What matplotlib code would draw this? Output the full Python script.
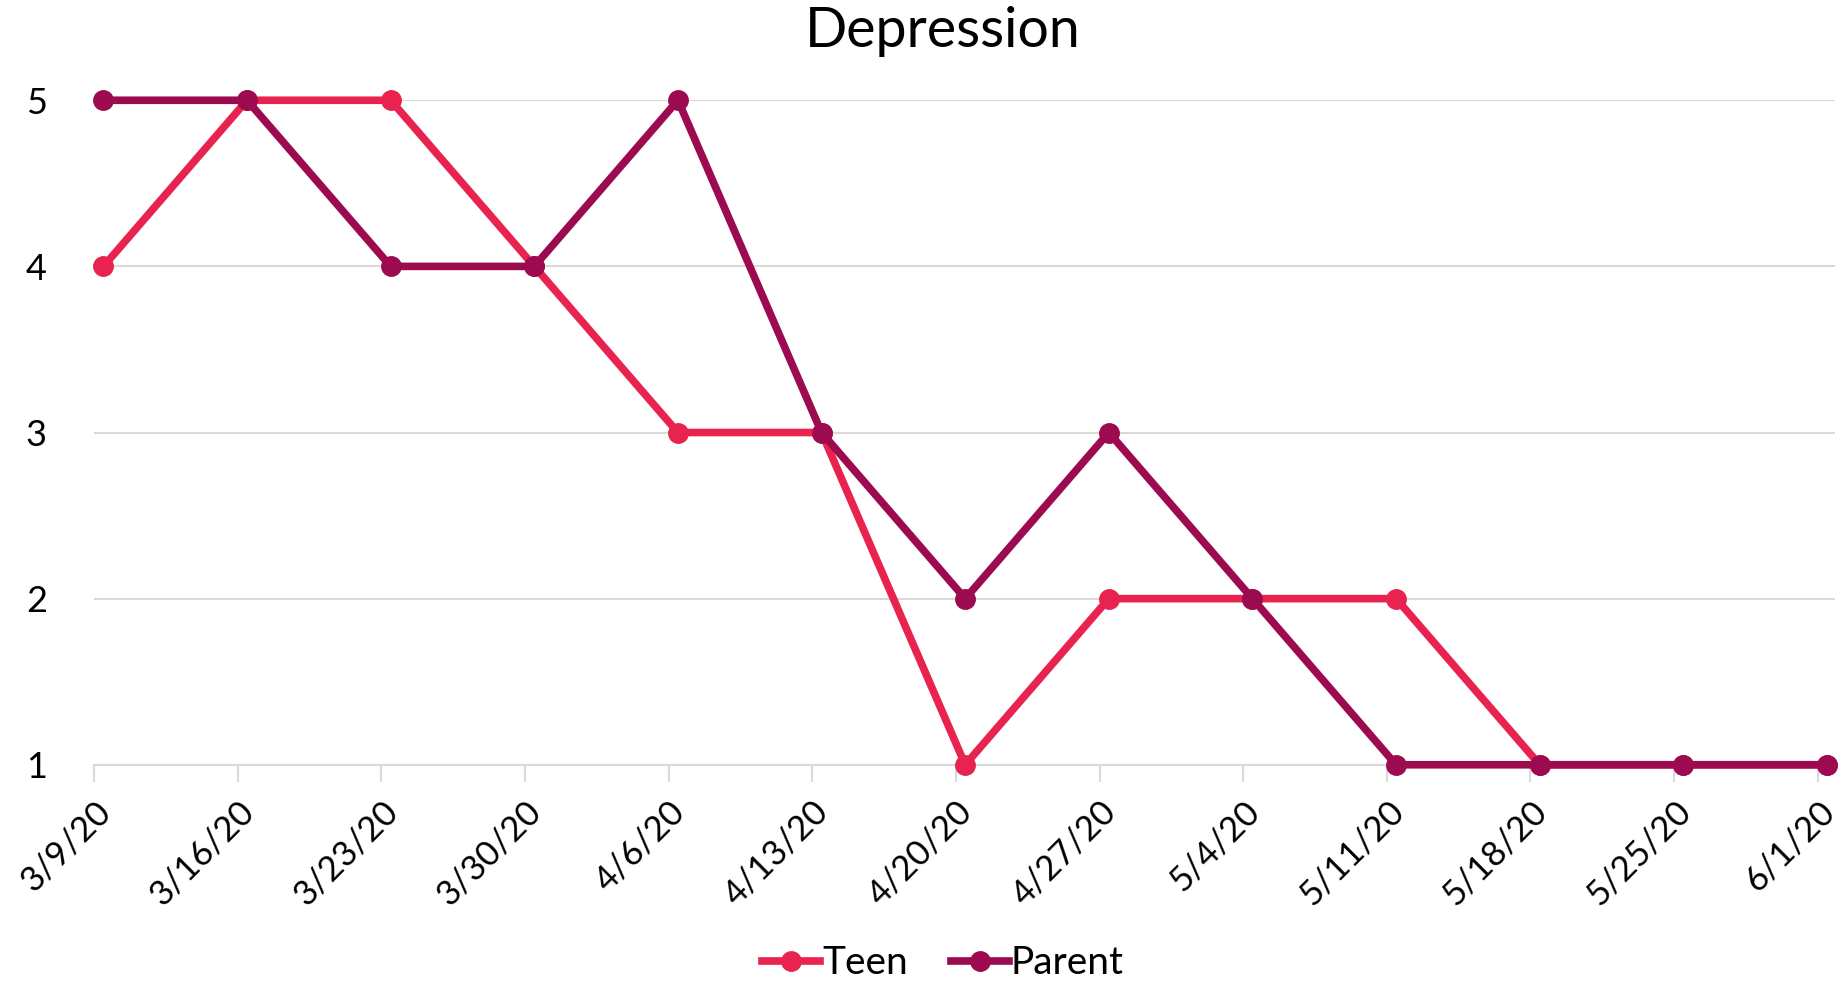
import matplotlib.pyplot as plt
import numpy as np

# datos
fechas = ['3/9/20', '3/16/20', '3/23/20', '3/30/20', '4/6/20', '4/13/20', '4/20/20',
          '4/27/20', '5/4/20', '5/11/20', '5/18/20', '5/25/20', '6/1/20']
teen = [4, 5, 5, 4, 3, 3, 1, 2, 2, 2, 1, 1, 1]
parent = [5, 5, 4, 4, 5, 3, 2, 3, 2, 1, 1, 1, 1]

color_teen = '#E8234F'
color_parent = '#9C0A4F'

plt.rcParams['font.family'] = ['Lato', 'DejaVu Sans']

fig = plt.figure(figsize=(18.45, 9.83), dpi=100)
ax = fig.add_axes([0.051, 0.222, 0.9436, 0.676])

x = np.arange(len(fechas))
ax.plot(x, teen, color=color_teen, linewidth=5.5, marker='o', markersize=14,
        label='Teen', clip_on=False, zorder=3)
ax.plot(x, parent, color=color_parent, linewidth=5.5, marker='o', markersize=14,
        label='Parent', clip_on=False, zorder=4)

ax.set_xlim(-0.065, len(fechas) - 1 + 0.056)
ax.set_ylim(1, 5)
ax.set_yticks([1, 2, 3, 4, 5])
ax.set_xticks(x - 0.065)
ax.set_xticklabels(fechas, rotation=45, ha='right', rotation_mode='anchor', fontsize=25)
ax.tick_params(axis='y', length=0, labelsize=26, pad=34)
ax.tick_params(axis='x', length=12, width=1.5, color='#D9D9D9', pad=10)

ax.grid(axis='y', color='#D9D9D9', linewidth=1.5)
ax.set_axisbelow(True)
for s in ['top', 'right', 'left']:
    ax.spines[s].set_visible(False)
ax.spines['bottom'].set_color('#D9D9D9')
ax.spines['bottom'].set_linewidth(1.5)

fig.text(0.511, 0.968, 'Depression', fontsize=40, ha='center', va='center')
fig.legend(loc='center', bbox_to_anchor=(0.511, 0.02), ncol=2, frameon=False,
           fontsize=28, handlelength=1.5, handletextpad=0.05, columnspacing=1.1)

plt.savefig('out.png', dpi=100)
